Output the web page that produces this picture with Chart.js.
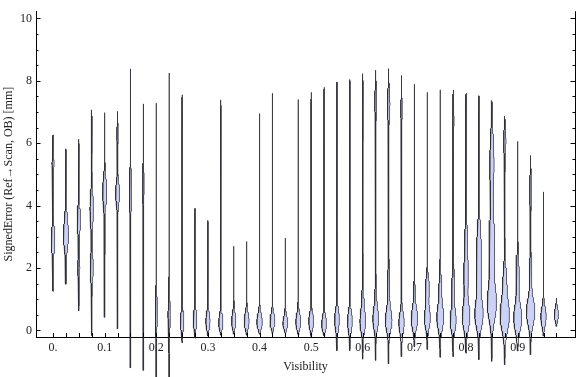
<!DOCTYPE html>
<html>
<head>
<meta charset="utf-8">
<script src="https://cdn.jsdelivr.net/npm/chart.js@4.4.0/dist/chart.umd.min.js"></script>
<style>
  html, body { margin: 0; padding: 0; background: #fff; }
  #wrap { width: 576px; height: 377px; }
</style>
</head>
<body>
<div id="wrap"><canvas id="myChart"></canvas></div>
<script>
// visibility bins (one violin each)
const visibility = [
  0, 0.025, 0.05, 0.075, 0.1, 0.125, 0.15, 0.175, 0.2, 0.225,
  0.25, 0.275, 0.3, 0.325, 0.35, 0.375, 0.4, 0.425, 0.45, 0.475,
  0.5, 0.525, 0.55, 0.575, 0.6, 0.625, 0.65, 0.675, 0.7, 0.725,
  0.75, 0.775, 0.8, 0.825, 0.85, 0.875, 0.9, 0.925, 0.95, 0.975,
];

// min / max signed error per bin [mm]
const errMin = [
  1.25, 1.48, 0.63, -0.16, 0.42, 0.05, -1.2, -1.28, -1.55, -1.6,
  -0.39, -0.25, -0.18, -0.15, -0.12, -0.15, -0.12, -0.1, -0.1, -0.15,
  -0.2, -0.18, -0.65, -0.65, -0.92, -0.96, -1.07, -0.84, -0.52, -0.61,
  -0.86, -0.84, -0.73, -0.94, -0.99, -1.1, -0.66, -0.78, -0.18, 0.13,
];
const errMax = [
  6.27, 5.82, 6.13, 7.07, 6.98, 7.02, 8.38, 7.26, 7.28, 8.25,
  7.55, 3.92, 3.53, 7.39, 2.7, 2.85, 6.95, 7.6, 2.96, 7.4,
  7.63, 7.79, 7.96, 8.04, 8.23, 8.34, 8.39, 8.17, 7.89, 7.63,
  7.71, 7.71, 7.6, 7.52, 7.37, 6.87, 6.06, 5.61, 4.44, 1.04,
];

// density modes per bin: [error, relative density, spread]
const modes = [
  [[2.9, 0.35, 0.35], [5.35, 0.18, 0.25]],
  [[3.0, 0.5, 0.3], [3.6, 0.2, 0.3], [2.2, 0.1, 0.3]],
  [[3.55, 0.33, 0.35], [2.0, 0.2, 0.3]],
  [[3.9, 0.33, 0.45], [2.0, 0.3, 0.35], [6.3, 0.08, 0.3]],
  [[4.45, 0.4, 0.4], [3.0, 0.08, 0.4]],
  [[4.4, 0.4, 0.3], [6.3, 0.12, 0.25]],
  [[4.5, 0.22, 0.45]],
  [[4.7, 0.12, 0.45]],
  [[0.6, 0.22, 0.4]],
  [[0.5, 0.22, 0.4]],
  [[0.3, 0.35, 0.25]],
  [[0.35, 0.35, 0.25]],
  [[0.3, 0.4, 0.25]],
  [[0.25, 0.4, 0.25]],
  [[0.3, 0.4, 0.25]],
  [[0.3, 0.47, 0.25]],
  [[0.27, 0.53, 0.25]],
  [[0.3, 0.47, 0.22]],
  [[0.22, 0.47, 0.22]],
  [[0.28, 0.47, 0.25]],
  [[0.3, 0.47, 0.25]],
  [[0.2, 0.47, 0.25]],
  [[0.35, 0.47, 0.3]],
  [[0.3, 0.47, 0.3], [7.4, 0.06, 0.3]],
  [[0.25, 0.5, 0.3], [0.9, 0.2, 0.4], [7.2, 0.1, 0.3]],
  [[0.35, 0.53, 0.3], [1.0, 0.15, 0.4], [7.35, 0.2, 0.3]],
  [[0.3, 0.6, 0.3], [1.2, 0.2, 0.6], [7.25, 0.25, 0.35]],
  [[0.25, 0.53, 0.3], [7.1, 0.15, 0.25]],
  [[0.35, 0.6, 0.3], [1.0, 0.15, 0.4]],
  [[0.4, 0.6, 0.3], [1.35, 0.4, 0.3]],
  [[0.4, 0.67, 0.35], [1.3, 0.25, 0.4]],
  [[0.3, 0.53, 0.3], [1.3, 0.25, 0.6], [6.7, 0.15, 0.35]],
  [[0.45, 0.75, 0.4], [1.8, 0.45, 0.5], [3.0, 0.2, 0.5], [6.3, 0.15, 0.5]],
  [[0.5, 0.8, 0.4], [1.8, 0.5, 0.6], [3.0, 0.3, 0.5], [6.5, 0.08, 0.4]],
  [[0.85, 0.9, 0.5], [2.2, 0.45, 0.6], [3.2, 0.35, 0.5], [5.3, 0.42, 0.8]],
  [[0.45, 0.9, 0.45], [1.5, 0.35, 0.5], [6.05, 0.22, 0.35]],
  [[0.4, 0.8, 0.4], [1.7, 0.3, 0.5]],
  [[0.6, 0.85, 0.4], [1.8, 0.2, 0.4], [4.5, 0.18, 0.4]],
  [[0.45, 0.53, 0.28]],
  [[0.5, 0.4, 0.2]],
];

const xTickLabels = ["0.", "0.1", "0.2", "0.3", "0.4", "0.5", "0.6", "0.7", "0.8", "0.9"];
const yTickLabels = [0, 2, 4, 6, 8, 10];

const FONT = "'Liberation Serif', 'Times New Roman', serif";
const widthPerDensity = 0.0093; // x units for density 1
const baseDensity = 0.04;

function violinOutline(i) {
  const x0 = visibility[i], lo = errMin[i], hi = errMax[i];
  const n = Math.max(20, Math.ceil((hi - lo) / 0.02));
  const ys = [], ws = [];
  for (let k = 0; k <= n; k++) {
    const y = lo + (hi - lo) * k / n;
    let d = baseDensity;
    modes[i].forEach(([c, a, s]) => {
      d += a * Math.exp(-0.5 * ((y - c) / s) ** 2);
    });
    const t = Math.min(1, (y - lo) / 0.25, (hi - y) / 0.25);
    ys.push(y);
    ws.push(d * Math.sqrt(Math.max(0, t)) * widthPerDensity);
  }
  const pts = [];
  for (let k = 0; k <= n; k++) pts.push({ x: x0 + ws[k], y: ys[k] });
  for (let k = n; k >= 0; k--) pts.push({ x: x0 - ws[k], y: ys[k] });
  return pts;
}

const datasets = visibility.map((v, i) => ({
  data: violinOutline(i),
  showLine: true,
  fill: "shape",
  backgroundColor: "rgb(204,210,246)",
  borderColor: "rgba(40,40,50,0.72)",
  borderWidth: 1,
  pointRadius: 0,
  pointHoverRadius: 0,
  tension: 0,
  clip: false,
}));

// inward tick marks + right frame
const frameTicks = {
  id: "frameTicks",
  afterDraw(chart) {
    const { ctx, chartArea: a, scales: { x, y } } = chart;
    ctx.save();
    ctx.strokeStyle = "#000";
    ctx.lineWidth = 1;
    ctx.beginPath();
    ctx.moveTo(a.right + 0.5, a.top);
    ctx.lineTo(a.right + 0.5, a.bottom + 0.5);
    for (let v = 0; v <= 10.001; v += 0.5) {
      const py = Math.round(y.getPixelForValue(v)) + 0.5;
      const len = Math.abs(v % 2) < 0.01 ? 4.5 : 2.5;
      ctx.moveTo(a.left, py); ctx.lineTo(a.left + len, py);
      ctx.moveTo(a.right, py); ctx.lineTo(a.right - len, py);
    }
    visibility.forEach(v => {
      const px = Math.round(x.getPixelForValue(v)) + 0.5;
      ctx.moveTo(px, a.bottom); ctx.lineTo(px, a.bottom - 4);
    });
    ctx.stroke();
    ctx.restore();
  }
};

new Chart(document.getElementById("myChart"), {
  type: "scatter",
  data: { datasets },
  options: {
    responsive: true,
    maintainAspectRatio: false,
    animation: false,
    events: [],
    layout: { padding: { top: 4, right: 1, left: 0, bottom: 0 } },
    plugins: { legend: { display: false }, tooltip: { enabled: false } },
    scales: {
      x: {
        type: "linear",
        min: -0.033,
        max: 1.011,
        afterBuildTicks: s => { s.ticks = visibility.map(v => ({ value: v })); },
        afterFit: s => { s.height = 40; },
        ticks: {
          autoSkip: false,
          maxRotation: 0,
          padding: 4,
          color: "#222",
          font: { family: FONT, size: 12 },
          callback: (v, i) => (i % 4 === 0 ? xTickLabels[i / 4] : ""),
        },
        grid: { display: false, drawTicks: false },
        border: { display: true, color: "#000", width: 1 },
        title: {
          display: true,
          text: "Visibility",
          color: "#222",
          font: { family: FONT, size: 12 },
          padding: { top: 0, bottom: 3 },
        },
      },
      y: {
        type: "linear",
        min: -0.21,
        max: 10.23,
        afterBuildTicks: s => { s.ticks = yTickLabels.map(v => ({ value: v })); },
        afterFit: s => { s.width = 36; },
        ticks: {
          padding: 4,
          color: "#222",
          font: { family: FONT, size: 12 },
        },
        grid: { display: false, drawTicks: false },
        border: { display: true, color: "#000", width: 1 },
        title: {
          display: true,
          text: "SignedError (Ref\u2192Scan, OB) [mm]",
          color: "#222",
          font: { family: FONT, size: 12 },
          padding: { top: 2, bottom: 0 },
        },
      },
    },
  },
  plugins: [frameTicks],
});
</script>
</body>
</html>
